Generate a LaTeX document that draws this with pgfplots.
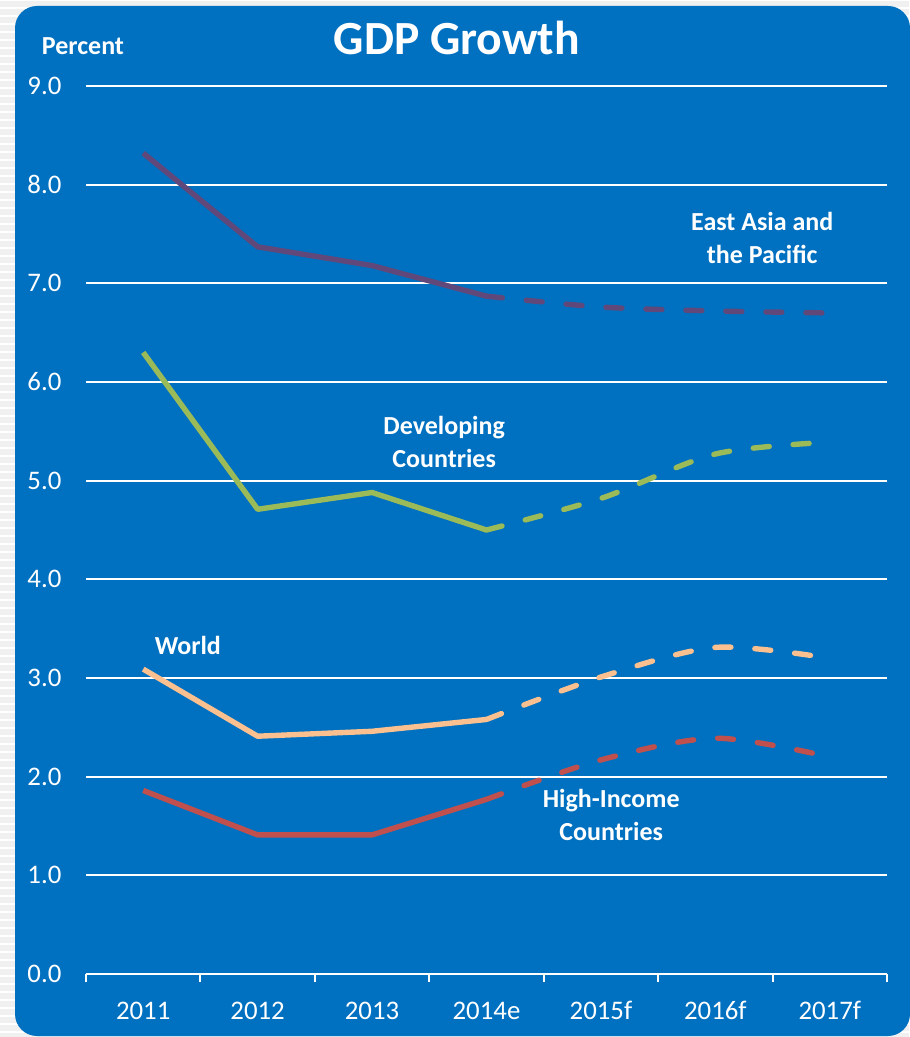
\documentclass[border=0pt]{standalone}
\usepackage{fontspec}
\setmainfont{Carlito}
\usepackage{pgfplots}
\pgfplotsset{compat=1.18}
\definecolor{bgblue}{HTML}{0070C0}
\definecolor{eacol}{HTML}{60497A}
\definecolor{devcol}{HTML}{9BBB59}
\definecolor{wcol}{HTML}{FAC090}
\definecolor{hicol}{HTML}{C0504D}
\begin{document}
\begin{tikzpicture}
\useasboundingbox (0,0) rectangle (454.5pt,-518.5pt);
\fill[gray!12] (0,0) rectangle (454.5pt,-518.5pt);
\foreach \i in {0,...,130} {\draw[white, line width=1pt] (0,-\i*4pt) -- (454.5pt,-\i*4pt);}
\fill[bgblue, rounded corners=11pt] (7.5pt,-3pt) rectangle (455pt,-518pt);
\node[white, font=\bfseries\fontsize{23.8}{28}\selectfont, anchor=base] at (228.5pt,-27.5pt) {GDP Growth};
\node[white, font=\bfseries\fontsize{13}{16}\selectfont] at (41.5pt,-23pt) {Percent};
\begin{axis}[
  at={(43pt,-487pt)}, anchor=south west,
  scale only axis, width=400.5pt, height=444pt,
  xmin=0.5, xmax=7.5, ymin=0, ymax=9,
  xtick={1,...,7},
  xticklabels={2011,2012,2013,2014e,2015f,2016f,2017f},
  minor xtick={0.5,1.5,...,7.5},
  ytick={0,...,9},
  /pgf/number format/assume math mode=true,
  /pgf/number format/fixed,
  /pgf/number format/fixed zerofill,
  /pgf/number format/precision=1,
  ticklabel style={white, font=\fontsize{13.4}{16}\selectfont},
  yticklabel style={anchor=east, xshift=-4.5pt},
  xticklabel style={yshift=-6pt},
  axis x line*=bottom,
  axis y line*=left,
  y axis line style={draw=none},
  x axis line style={white, line width=1pt, -},
  major tick style={draw=none},
  minor x tick style={white, line width=1pt},
  tick align=outside,
  minor tick length=4pt,
  ymajorgrids,
  grid style={white, line width=1pt},
  clip=false,
]
\addplot[eacol, line width=2.7pt, line join=round] coordinates {(1,8.32)(2,7.37)(3,7.18)(4,6.87)};
\addplot[eacol, line width=2.7pt, line cap=round, dash pattern=on 8pt off 12pt, smooth] coordinates {(4,6.87)(5,6.76)(6,6.72)(7,6.70)};
\addplot[devcol, line width=2.7pt, line join=round] coordinates {(1,6.30)(2,4.71)(3,4.88)(4,4.50)};
\addplot[devcol, line width=2.7pt, line cap=round, dash pattern=on 8pt off 12pt, smooth] coordinates {(4,4.50)(5,4.82)(6,5.27)(7,5.39)};
\addplot[wcol, line width=2.7pt, line join=round] coordinates {(1,3.09)(2,2.41)(3,2.46)(4,2.58)};
\addplot[wcol, line width=2.7pt, line cap=round, dash pattern=on 8pt off 12pt, smooth] coordinates {(4,2.58)(5,3.01)(6,3.31)(7,3.20)};
\addplot[hicol, line width=2.7pt, line join=round] coordinates {(1,1.86)(2,1.41)(3,1.41)(4,1.77)};
\addplot[hicol, line width=2.7pt, line cap=round, dash pattern=on 8pt off 12pt, smooth] coordinates {(4,1.77)(5,2.17)(6,2.39)(7,2.20)};
\begin{scope}[every node/.style={white, font=\bfseries\fontsize{13}{16.5}\selectfont, align=center}]
\node at (axis cs:6.41,7.46) {East Asia and\\the Pacific};
\node at (axis cs:3.63,5.39) {Developing\\Countries};
\node at (axis cs:1.39,3.33) {World};
\node at (axis cs:5.09,1.61) {High-Income\\Countries};
\end{scope}
\end{axis}
\end{tikzpicture}
\end{document}
